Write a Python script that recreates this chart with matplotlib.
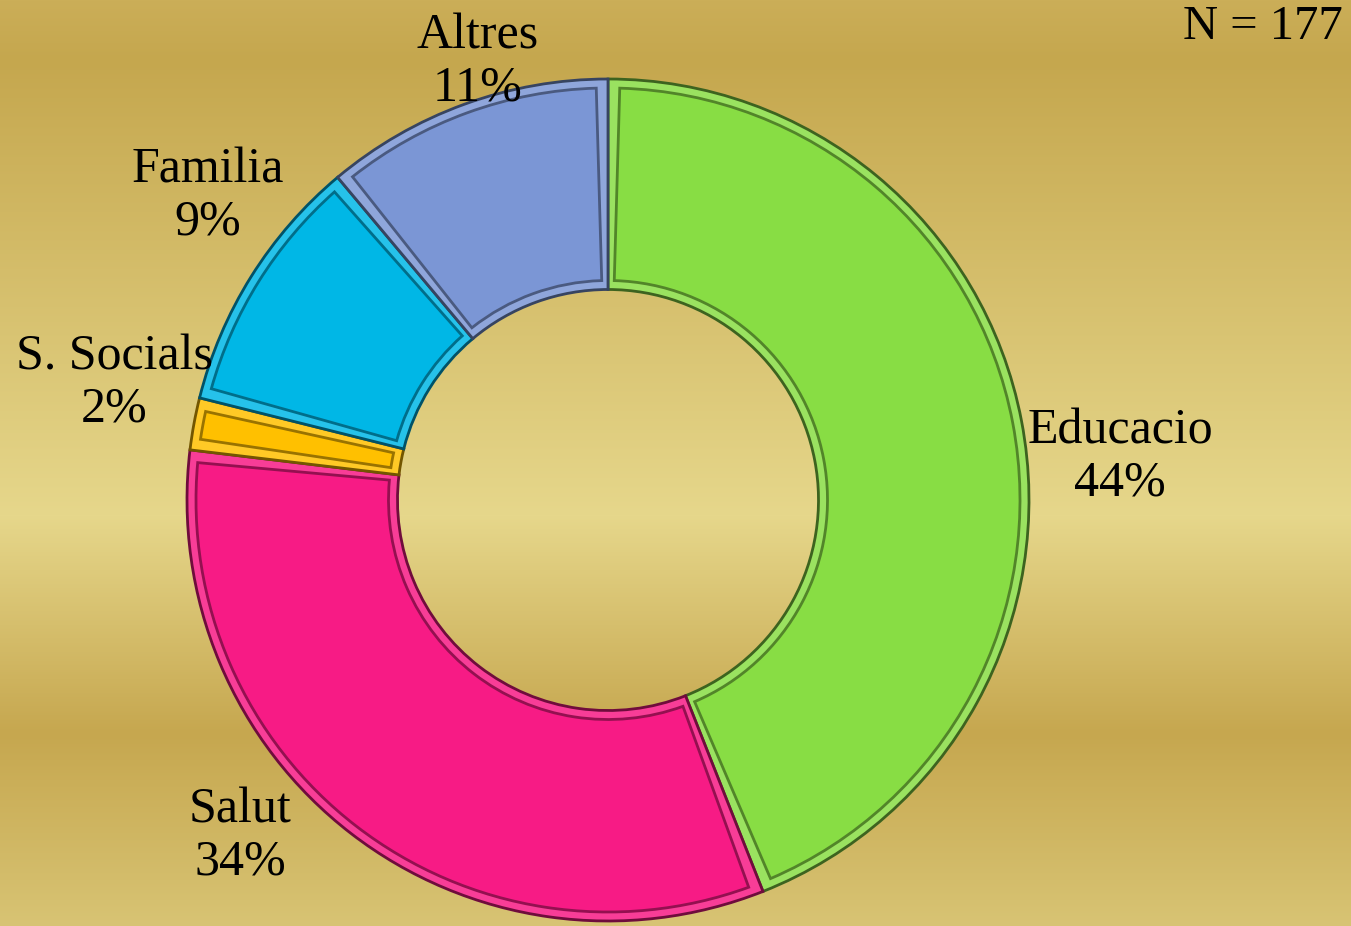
import numpy as np
import matplotlib.pyplot as plt
from matplotlib.patches import Wedge
from matplotlib.colors import to_rgb

# dades del gràfic
categories = ['Educacio', 'Salut', 'S. Socials', 'Familia', 'Altres']
# mida dels sectors tal com es veu al gràfic
valors = [44.0, 32.9, 2.0, 10.0, 11.1]
# percentatges escrits a les etiquetes
etiquetes_pct = ['44%', '34%', '2%', '9%', '11%']
colors = ['#88dd44', '#f71b85', '#ffc000', '#00b7e6', '#7b96d5']
total_n = 177

plt.rcParams['font.family'] = ['Liberation Serif', 'DejaVu Serif']

W, H = 1351, 926
fig = plt.figure(figsize=(W / 100, H / 100), dpi=100)

# fons daurat amb degradat vertical
bg = fig.add_axes([0, 0, 1, 1])
stops_y = [0, 60, 515, 733, 926]
stops_c = np.array([to_rgb(c) for c in ['#cbae58', '#c5a74e', '#e6d78b', '#c6a74f', '#d8c474']])
yy = np.arange(H)
grad = np.stack([np.interp(yy, stops_y, stops_c[:, k]) for k in range(3)], axis=-1)
grad = np.repeat(grad[:, None, :], 2, axis=1)
bg.imshow(grad, aspect='auto', extent=[0, 1, 0, 1], origin='upper')
bg.axis('off')

# eix del pastís: centre (608, 500) px, radi 421 px
r_px = 421
cx, cy = 608, 500
ax = fig.add_axes([(cx - r_px) / W, (H - cy - r_px) / H, 2 * r_px / W, 2 * r_px / H])


def shade(c, f):
    rgb = np.array(to_rgb(c))
    if f < 1:
        return tuple(rgb * f)
    return tuple(rgb + (1 - rgb) * (f - 1))


wedges, _ = ax.pie(valors, colors=colors, startangle=90, counterclock=False,
                   radius=1, wedgeprops=dict(width=0.5, linewidth=2))

# efecte de bisell: vora clara i línia fosca interior
d = 9 / r_px
da = np.degrees(d / 0.75)
for w, c in zip(wedges, colors):
    w.set_facecolor(shade(c, 1.15))
    w.set_edgecolor(shade(c, 0.45))
    inner = Wedge((0, 0), w.r - d, w.theta1 + da, w.theta2 - da, width=w.width - 2 * d,
                  facecolor=c, edgecolor=shade(c, 0.6), linewidth=2)
    ax.add_patch(inner)

ax.set_xlim(-1, 1)
ax.set_ylim(-1, 1)
ax.set_aspect('equal')
ax.axis('off')

# posicions de les etiquetes (px de la imatge)
label_px = [(1120, 457), (240, 836), (114, 383), (208, 196), (478, 62)]
for cat, p, (px, py) in zip(categories, etiquetes_pct, label_px):
    ax.text((px - cx) / r_px, (cy - py) / r_px, f'{cat}\n{p}', ha='center', va='center',
            fontsize=36, linespacing=1.15, color='black')

fig.text(1263 / W, 1 - 27 / H, f'N = {total_n}', ha='center', va='center', fontsize=35)

fig.savefig('out.png', dpi=100)
